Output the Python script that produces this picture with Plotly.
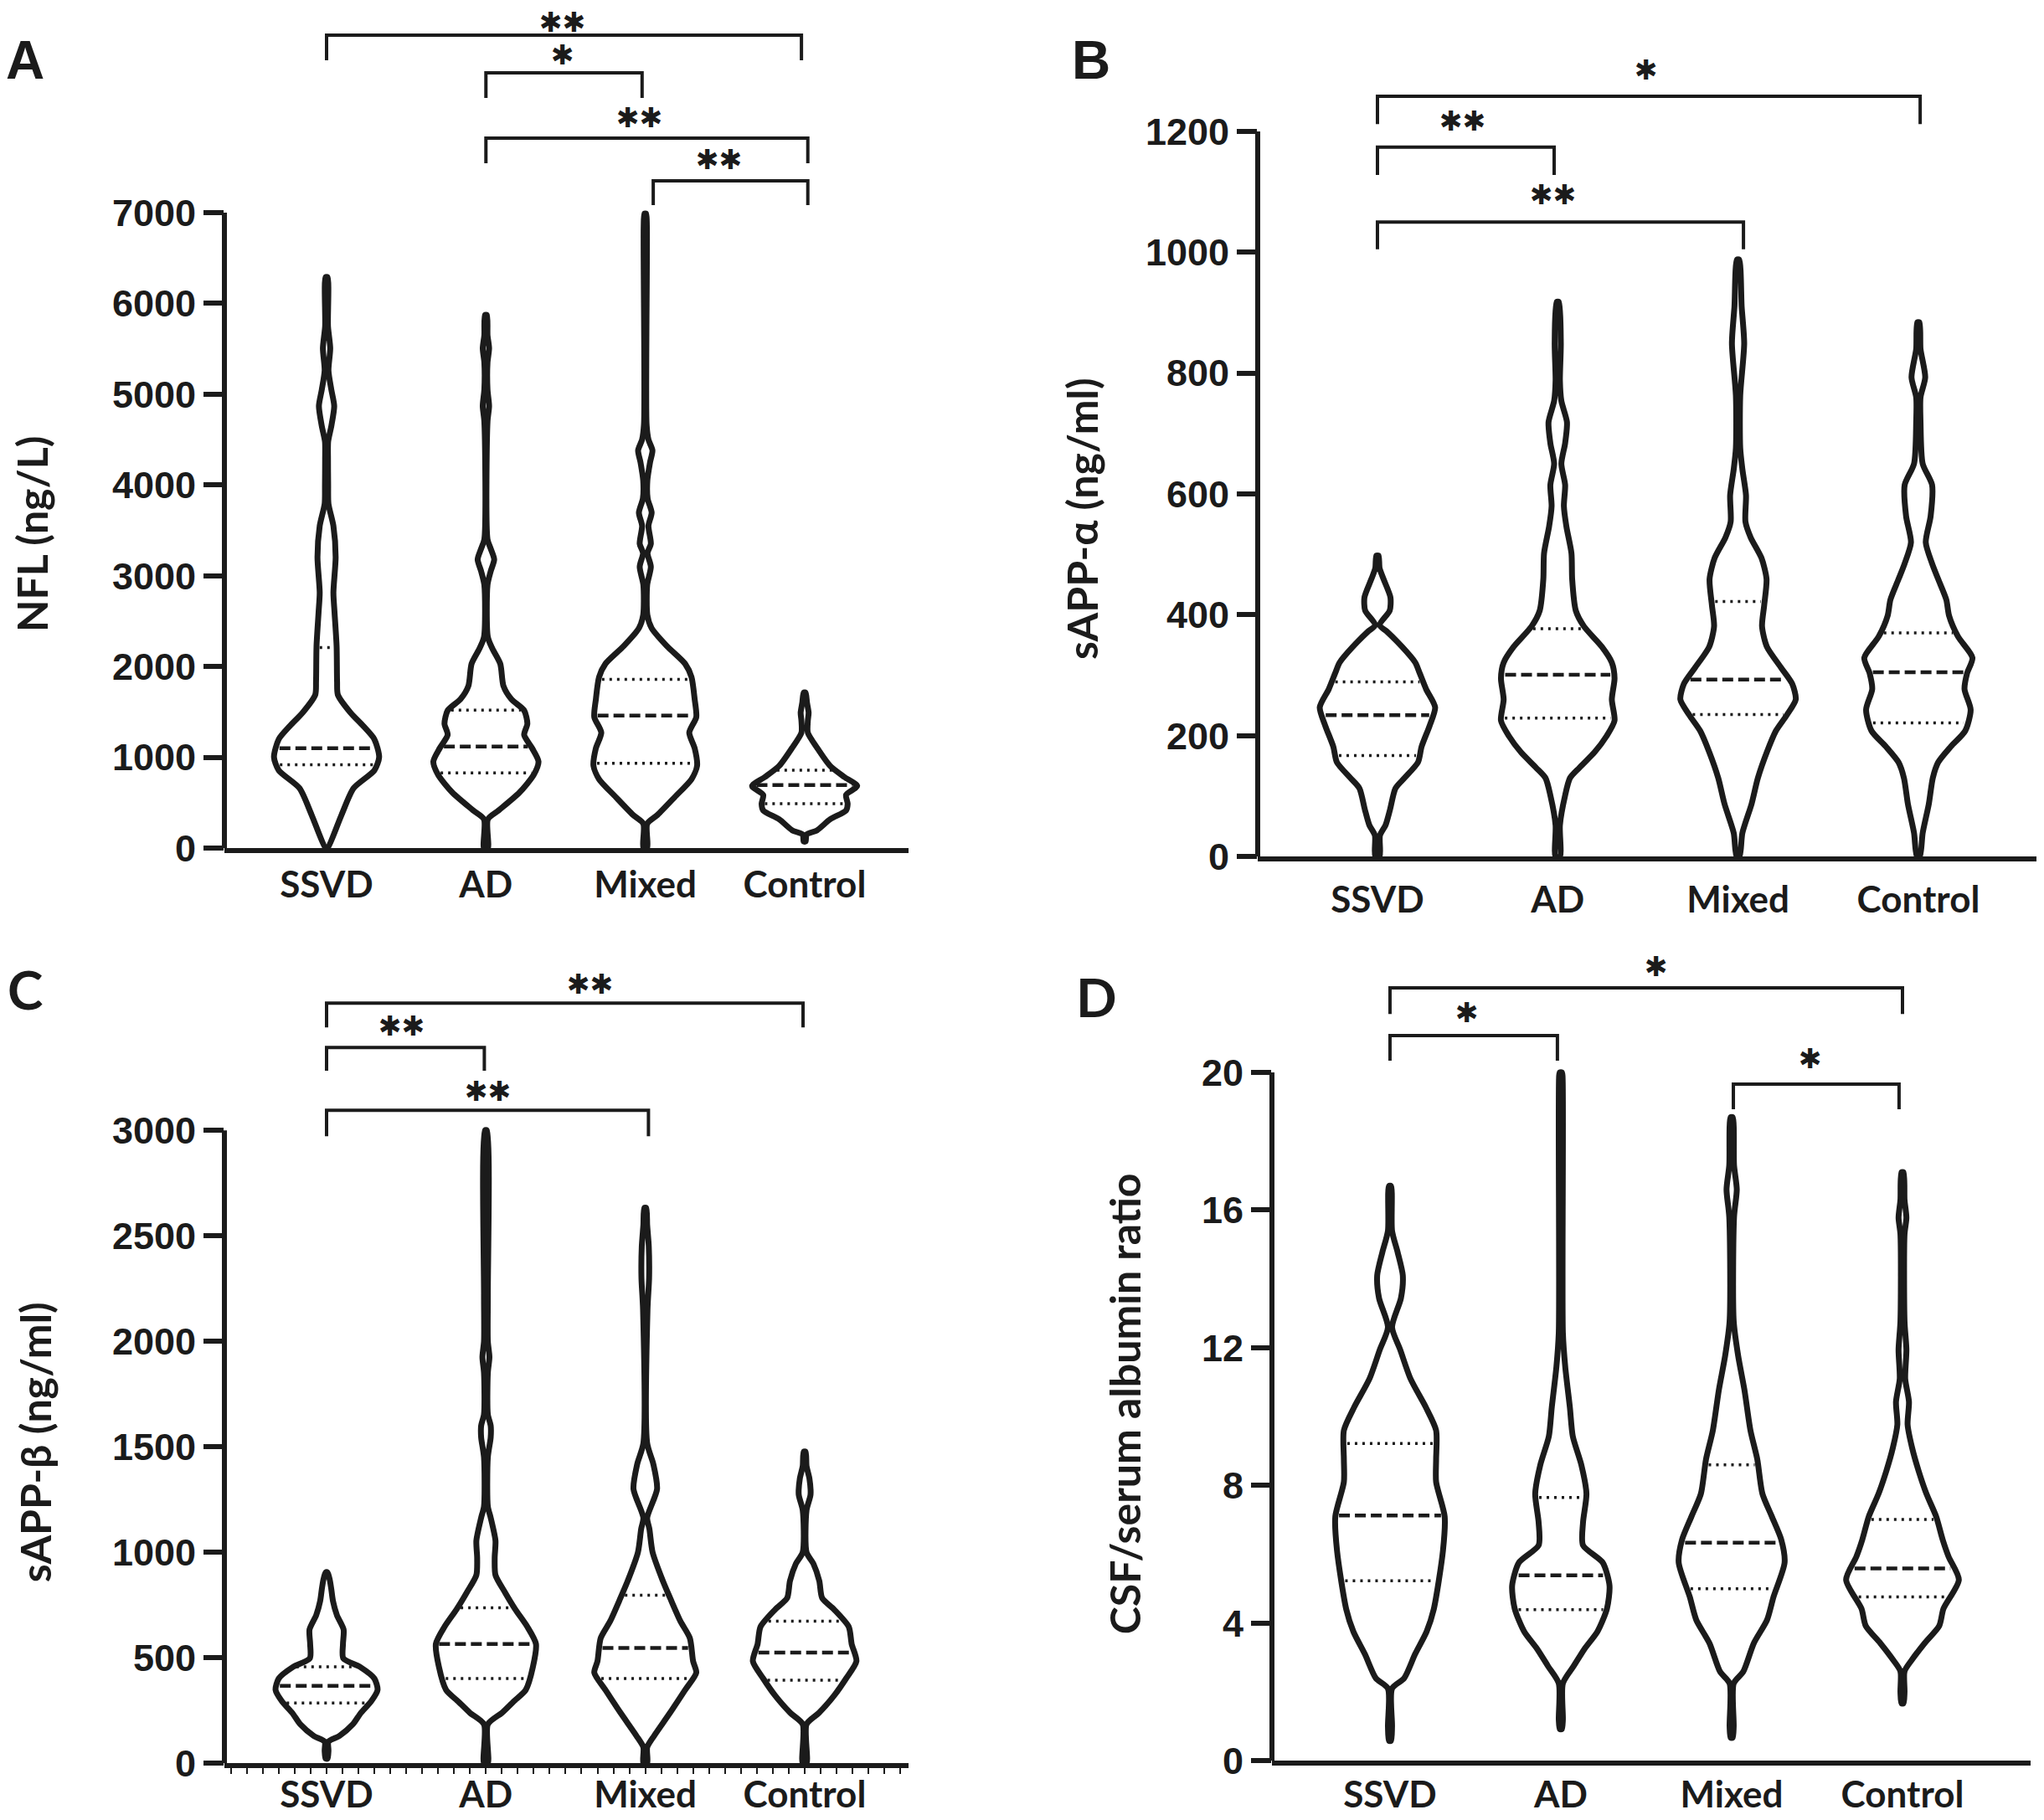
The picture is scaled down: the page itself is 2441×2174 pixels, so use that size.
import numpy as np
import plotly.graph_objects as go

GROUPS = ["SSVD", "AD", "Mixed", "Control"]

# ---------------- Panel A : NFL (ng/L) ----------------
A_SSVD_Y = [0, 367, 661, 857, 1003, 1200, 1346, 1493, 1689, 1835, 2227, 2600, 2815, 3206, 3549, 3793, 4000, 4283, 4479, 4650, 4870, 5050, 5262, 5506, 5750, 6290]
A_SSVD_W = [0.006, 0.094, 0.17, 0.30, 0.33, 0.30, 0.23, 0.15, 0.071, 0.066, 0.063, 0.05, 0.043, 0.057, 0.043, 0.012, 0.010, 0.009, 0.010, 0.03, 0.048, 0.03, 0.012, 0.023, 0.009, 0.006]
A_AD_Y = [0, 318, 416, 612, 808, 954, 1101, 1248, 1371, 1517, 1640, 1787, 2031, 2200, 2325, 2900, 3050, 3181, 3300, 3402, 4700, 4870, 5050, 5350, 5506, 5650, 5873]
A_AD_W = [0.012, 0.012, 0.08, 0.21, 0.30, 0.33, 0.29, 0.24, 0.26, 0.24, 0.16, 0.11, 0.09, 0.04, 0.012, 0.010, 0.03, 0.052, 0.03, 0.010, 0.010, 0.02, 0.010, 0.010, 0.02, 0.010, 0.006]
A_MIX_Y = [0, 269, 367, 563, 759, 906, 1101, 1273, 1444, 1640, 1884, 2031, 2227, 2423, 2570, 2900, 3100, 3250, 3353, 3550, 3696, 3850, 4050, 4250, 4381, 4500, 4675, 6850, 6990]
A_MIX_W = [0.012, 0.012, 0.077, 0.185, 0.29, 0.325, 0.31, 0.276, 0.32, 0.31, 0.29, 0.25, 0.135, 0.04, 0.013, 0.012, 0.035, 0.014, 0.035, 0.02, 0.04, 0.015, 0.013, 0.03, 0.045, 0.02, 0.008, 0.010, 0.005]
A_CTL_Y = [73, 150, 196, 318, 416, 489, 587, 685, 783, 906, 1101, 1273, 1400, 1493, 1600, 1713]
A_CTL_W = [0.006, 0.012, 0.077, 0.16, 0.26, 0.27, 0.26, 0.33, 0.25, 0.16, 0.08, 0.02, 0.02, 0.025, 0.015, 0.006]
A_Q1 = [920, 830, 935, 490]
A_MED = [1100, 1120, 1460, 695]
A_Q3 = [2210, 1520, 1860, 860]
A_TICKS = [0, 1000, 2000, 3000, 4000, 5000, 6000, 7000]
A_BR_X0 = [0, 1, 1, 2.05]
A_BR_X1 = [2.98, 1.98, 3.02, 3.02]
A_BR_Y = [8955, 8540, 7821, 7350]
A_BR_YEND = [8678, 8263, 7544, 7083]
A_STAR_X = [1.48, 1.48, 1.96, 2.46]
A_STAR_Y = [9103, 8743, 8051, 7590]
A_STARS = ["**", "*", "**", "**"]

# ---------------- Panel B : sAPP-alpha ----------------
B_SSVD_Y = [0, 35, 52, 78, 113, 130, 156, 182, 217, 247, 277, 303, 321, 347, 373, 383, 407, 429, 459, 477, 498]
B_SSVD_W = [0.012, 0.014, 0.045, 0.07, 0.10, 0.15, 0.225, 0.245, 0.29, 0.32, 0.27, 0.235, 0.21, 0.137, 0.05, 0.012, 0.068, 0.072, 0.034, 0.012, 0.006]
B_AD_Y = [0, 52, 100, 130, 147, 173, 199, 225, 260, 295, 321, 347, 381, 407, 459, 502, 546, 580, 615, 650, 684, 719, 754, 788, 849, 918]
B_AD_W = [0.012, 0.012, 0.04, 0.068, 0.12, 0.205, 0.27, 0.315, 0.30, 0.315, 0.30, 0.245, 0.145, 0.10, 0.08, 0.076, 0.048, 0.034, 0.041, 0.02, 0.041, 0.051, 0.02, 0.012, 0.017, 0.006]
B_MIX_Y = [0, 39, 87, 130, 173, 208, 234, 260, 286, 312, 347, 381, 416, 459, 494, 528, 554, 598, 641, 676, 763, 849, 910, 988]
B_MIX_W = [0.008, 0.024, 0.075, 0.11, 0.16, 0.21, 0.27, 0.32, 0.30, 0.24, 0.16, 0.133, 0.145, 0.158, 0.13, 0.07, 0.041, 0.044, 0.024, 0.012, 0.012, 0.034, 0.02, 0.006]
B_CTL_Y = [0, 39, 87, 130, 156, 182, 208, 243, 277, 303, 329, 364, 399, 425, 459, 485, 520, 563, 615, 650, 719, 760, 793, 840, 884]
B_CTL_W = [0.008, 0.024, 0.058, 0.08, 0.11, 0.18, 0.26, 0.29, 0.256, 0.27, 0.30, 0.22, 0.17, 0.155, 0.11, 0.076, 0.041, 0.068, 0.076, 0.024, 0.012, 0.012, 0.038, 0.012, 0.006]
B_Q1 = [167, 229, 235, 221]
B_MED = [234, 301, 293, 305]
B_Q3 = [289, 377, 422, 370]
B_TICKS = [0, 200, 400, 600, 800, 1000, 1200]
B_BR_X0 = [0, 0, 0]
B_BR_X1 = [3.01, 0.98, 2.03]
B_BR_Y = [1258, 1174, 1050]
B_BR_YEND = [1212, 1128, 1005]
B_STAR_X = [1.49, 0.47, 0.975]
B_STAR_Y = [1302, 1217, 1095]
B_STARS = ["*", "**", "**"]

# ---------------- Panel C : sAPP-beta ----------------
C_SSVD_Y = [22, 60, 103, 130, 185, 239, 294, 348, 402, 457, 498, 566, 634, 702, 770, 824, 870, 905]
C_SSVD_W = [0.006, 0.012, 0.012, 0.08, 0.165, 0.215, 0.28, 0.32, 0.30, 0.21, 0.105, 0.103, 0.107, 0.065, 0.04, 0.03, 0.02, 0.006]
C_AD_Y = [0, 185, 239, 294, 348, 457, 566, 647, 729, 810, 892, 974, 1055, 1164, 1218, 1450, 1545, 1600, 1654, 1850, 1926, 2000, 2225, 3000]
C_AD_W = [0.012, 0.012, 0.10, 0.175, 0.25, 0.295, 0.314, 0.26, 0.185, 0.12, 0.06, 0.055, 0.06, 0.03, 0.012, 0.012, 0.03, 0.03, 0.012, 0.012, 0.022, 0.012, 0.012, 0.006]
C_MIX_Y = [0, 76, 130, 239, 348, 430, 484, 593, 674, 783, 865, 1000, 1110, 1164, 1300, 1420, 1517, 2150, 2300, 2450, 2550, 2633]
C_MIX_W = [0.012, 0.012, 0.055, 0.155, 0.25, 0.32, 0.30, 0.28, 0.22, 0.156, 0.11, 0.046, 0.026, 0.012, 0.074, 0.05, 0.012, 0.014, 0.024, 0.022, 0.012, 0.006]
C_CTL_Y = [0, 185, 239, 321, 402, 484, 566, 647, 729, 783, 865, 946, 1000, 1200, 1273, 1350, 1409, 1477]
C_CTL_W = [0.012, 0.012, 0.09, 0.185, 0.26, 0.325, 0.295, 0.277, 0.185, 0.11, 0.092, 0.055, 0.012, 0.012, 0.037, 0.03, 0.012, 0.006]
C_Q1 = [286, 402, 402, 394]
C_MED = [367, 566, 547, 525]
C_Q3 = [457, 737, 797, 674]
C_TICKS = [0, 500, 1000, 1500, 2000, 2500, 3000]
C_BR_X0 = [0, 0, 0]
C_BR_X1 = [2.99, 0.99, 2.02]
C_BR_Y = [3603, 3393, 3095]
C_BR_YEND = [3488, 3282, 2972]
C_STAR_X = [1.655, 0.47, 1.01]
C_STAR_Y = [3694, 3496, 3187]
C_STARS = ["**", "**", "**"]

# ---------------- Panel D : CSF/serum albumin ratio ----------------
D_SSVD_Y = [0.58, 1.0, 2.1, 2.4, 3.1, 3.75, 4.4, 6.1, 7.1, 8.1, 8.76, 9.6, 10.27, 11.1, 11.94, 12.6, 13.44, 14.1, 14.77, 15.4, 16.7]
D_SSVD_W = [0.006, 0.012, 0.012, 0.083, 0.147, 0.214, 0.256, 0.31, 0.32, 0.27, 0.27, 0.27, 0.21, 0.12, 0.06, 0.012, 0.064, 0.075, 0.045, 0.012, 0.006]
D_AD_Y = [0.92, 1.2, 2.25, 2.75, 3.26, 3.76, 4.42, 5.09, 5.76, 6.26, 6.93, 7.76, 8.6, 9.43, 10.27, 11.44, 12.44, 19.9, 20.0]
D_AD_W = [0.006, 0.012, 0.012, 0.075, 0.14, 0.215, 0.27, 0.285, 0.245, 0.13, 0.13, 0.15, 0.12, 0.07, 0.053, 0.026, 0.012, 0.010, 0.006]
D_MIX_Y = [0.67, 1.0, 2.25, 2.59, 3.42, 4.09, 4.76, 5.76, 6.43, 7.1, 7.76, 8.76, 9.6, 10.77, 11.77, 12.77, 15.8, 16.6, 17.3, 18.7]
D_MIX_W = [0.006, 0.012, 0.012, 0.068, 0.13, 0.207, 0.245, 0.31, 0.29, 0.235, 0.18, 0.15, 0.11, 0.075, 0.038, 0.012, 0.014, 0.03, 0.014, 0.006]
D_CTL_Y = [1.67, 2.0, 2.6, 2.92, 3.42, 3.92, 4.42, 5.26, 5.93, 6.43, 7.1, 7.76, 8.43, 9.1, 9.77, 10.43, 11.1, 11.94, 12.77, 15.3, 15.78, 16.3, 17.1]
D_CTL_W = [0.006, 0.012, 0.012, 0.053, 0.13, 0.215, 0.24, 0.33, 0.27, 0.235, 0.197, 0.14, 0.094, 0.056, 0.03, 0.038, 0.016, 0.023, 0.012, 0.012, 0.023, 0.012, 0.006]
D_Q1 = [5.23, 4.39, 5.0, 4.76]
D_MED = [7.13, 5.39, 6.34, 5.59]
D_Q3 = [9.22, 7.65, 8.6, 7.01]
D_TICKS = [0, 4, 8, 12, 16, 20]
D_BR_X0 = [0, 0, 2.01]
D_BR_X1 = [3.0, 0.98, 2.98]
D_BR_Y = [22.46, 21.07, 19.66]
D_BR_YEND = [21.70, 20.34, 18.93]
D_STAR_X = [1.56, 0.45, 2.46]
D_STAR_Y = [23.07, 21.75, 20.41]
D_STARS = ["*", "*", "*"]

# ---------------- styling / layout ----------------
OFF = 8            # page offset of the plot div
VSCALE = 0.988     # measured vertical compression of the captured page
W_PX = 2425
H_PX = 2192
INK = "#1b1b1b"
NUM_FONT = "Liberation Sans, Arial, sans-serif"
TXT_FONT = "Lato, Open Sans, sans-serif"
STAR_FONT = "DejaVu Sans, sans-serif"


def fx(px):
    return (px - OFF) / W_PX


def fy(py):
    return 1 - ((py - OFF) / VSCALE) / H_PX


PANELS = [
    dict(key="A", n=1, xpx=(268, 1085), ypx=(1013, 8), xr=(-0.641, 3.652), yr=(0, 9269),
         prof=[(A_SSVD_Y, A_SSVD_W), (A_AD_Y, A_AD_W), (A_MIX_Y, A_MIX_W), (A_CTL_Y, A_CTL_W)],
         q=(A_Q1, A_MED, A_Q3), ticks=A_TICKS,
         br=(A_BR_X0, A_BR_X1, A_BR_Y, A_BR_YEND), st=(A_STAR_X, A_STAR_Y, A_STARS),
         title="NFL (ng/L)", tpos=(38, 638), letter_pos=(30, 72), minor=False, standoff=0),
    dict(key="B", n=2, xpx=(1502, 2432), ypx=(1023, 8), xr=(-0.664, 3.655), yr=(0, 1406.4),
         prof=[(B_SSVD_Y, B_SSVD_W), (B_AD_Y, B_AD_W), (B_MIX_Y, B_MIX_W), (B_CTL_Y, B_CTL_W)],
         q=(B_Q1, B_MED, B_Q3), ticks=B_TICKS,
         br=(B_BR_X0, B_BR_X1, B_BR_Y, B_BR_YEND), st=(B_STAR_X, B_STAR_Y, B_STARS),
         title="sAPP-α (ng/ml)", tpos=(1292, 620), letter_pos=(1303, 72), minor=False, standoff=8),
    dict(key="C", n=3, xpx=(268, 1085), ypx=(2106, 1130), xr=(-0.641, 3.652), yr=(0, 3873),
         prof=[(C_SSVD_Y, C_SSVD_W), (C_AD_Y, C_AD_W), (C_MIX_Y, C_MIX_W), (C_CTL_Y, C_CTL_W)],
         q=(C_Q1, C_MED, C_Q3), ticks=C_TICKS,
         br=(C_BR_X0, C_BR_X1, C_BR_Y, C_BR_YEND), st=(C_STAR_X, C_STAR_Y, C_STARS),
         title="sAPP-β (ng/ml)", tpos=(42, 1723), letter_pos=(30, 1181), minor=True, standoff=-6),
    dict(key="D", n=4, xpx=(1519, 2425), ypx=(2103, 1130), xr=(-0.691, 3.750), yr=(0, 23.67),
         prof=[(D_SSVD_Y, D_SSVD_W), (D_AD_Y, D_AD_W), (D_MIX_Y, D_MIX_W), (D_CTL_Y, D_CTL_W)],
         q=(D_Q1, D_MED, D_Q3), ticks=D_TICKS,
         br=(D_BR_X0, D_BR_X1, D_BR_Y, D_BR_YEND), st=(D_STAR_X, D_STAR_Y, D_STARS),
         title="CSF/serum albumin ratio", tpos=(1343, 1677), letter_pos=(1309, 1190), minor=False, standoff=-3),
]

fig = go.Figure()
layout = {}
shapes = []
annotations = []

for p in PANELS:
    n = p["n"]
    xa, ya = ("x", "y") if n == 1 else (f"x{n}", f"y{n}")
    xkey, ykey = ("xaxis", "yaxis") if n == 1 else (f"xaxis{n}", f"yaxis{n}")

    # violins
    q1s, meds, q3s = p["q"]
    for i, (ys, ws) in enumerate(p["prof"]):
        c = i
        xs = [c + w for w in ws] + [c - w for w in ws[::-1]] + [c + ws[0]]
        yy = list(ys) + list(ys[::-1]) + [ys[0]]
        fig.add_trace(go.Scatter(x=xs, y=yy, mode="lines", xaxis=xa, yaxis=ya,
                                 line=dict(color=INK, width=7, shape="spline", smoothing=0.7),
                                 hoverinfo="skip", showlegend=False))
        for val, dash, lw in [(q1s[i], "3px,6px", 3.5), (q3s[i], "3px,6px", 3.5), (meds[i], "13px,6px", 4.5)]:
            hw = max(float(np.interp(val, ys, ws)) - 0.02, 0.0)
            fig.add_trace(go.Scatter(x=[c - hw, c + hw], y=[val, val], mode="lines", xaxis=xa, yaxis=ya,
                                     line=dict(color=INK, width=lw, dash=dash),
                                     hoverinfo="skip", showlegend=False))

    # axes
    xd = [fx(p["xpx"][0]), fx(p["xpx"][1])]
    yd = [fy(p["ypx"][0]), fy(p["ypx"][1])]
    xcfg = dict(domain=xd, range=list(p["xr"]), anchor=ya, tickmode="array", tickvals=[0, 1, 2, 3],
                ticktext=GROUPS, ticks="", showline=True, linewidth=6, linecolor=INK,
                showgrid=False, zeroline=False, fixedrange=True, ticklabelstandoff=p["standoff"],
                tickfont=dict(family=TXT_FONT, size=44, color=INK, weight="bold"))
    if p["minor"]:
        xcfg["minor"] = dict(ticks="outside", ticklen=7, tickwidth=2, tickcolor=INK,
                             tick0=0, dtick=0.1, showgrid=False)
    layout[xkey] = xcfg
    layout[ykey] = dict(domain=yd, range=list(p["yr"]), anchor=xa, tickmode="array",
                        tickvals=p["ticks"], ticktext=[str(t) for t in p["ticks"]],
                        ticks="outside", ticklen=24, tickwidth=6, tickcolor=INK,
                        showline=False, showgrid=False, zeroline=False, fixedrange=True,
                        tickfont=dict(family=NUM_FONT, size=45, color=INK, weight="bold"))
    # y axis line only over the tick range
    shapes.append(dict(type="line", xref=f"{xa} domain", yref=ya, x0=0, x1=0,
                       y0=p["ticks"][0], y1=p["ticks"][-1], line=dict(color=INK, width=6)))

    # significance brackets
    bx0, bx1, by, byend = p["br"]
    for j in range(len(bx0)):
        shapes.append(dict(type="path", xref=xa, yref=ya,
                           path=f"M {bx0[j]},{byend[j]} L {bx0[j]},{by[j]} L {bx1[j]},{by[j]} L {bx1[j]},{byend[j]}",
                           line=dict(color=INK, width=4)))
    sx, sy, stxt = p["st"]
    for j in range(len(sx)):
        annotations.append(dict(x=sx[j], y=sy[j], xref=xa, yref=ya, text=stxt[j].replace("*", "✱"),
                                showarrow=False, xanchor="center", yanchor="middle",
                                font=dict(family=STAR_FONT, size=33, color=INK)))

    # y title
    annotations.append(dict(x=fx(p["tpos"][0]), y=fy(p["tpos"][1]), xref="paper", yref="paper",
                            text=p["title"], textangle=-90, showarrow=False,
                            xanchor="center", yanchor="middle",
                            font=dict(family=TXT_FONT, size=50, color=INK, weight="bold")))
    # panel letter
    annotations.append(dict(x=fx(p["letter_pos"][0]), y=fy(p["letter_pos"][1]),
                            xref="paper", yref="paper", text=p["key"], showarrow=False,
                            xanchor="center", yanchor="middle",
                            font=dict(family=NUM_FONT if p["key"] in "AB" else TXT_FONT,
                                      size=64, color=INK, weight="bold")))

fig.update_layout(width=W_PX, height=H_PX, margin=dict(l=0, r=0, t=0, b=0),
                  paper_bgcolor="white", plot_bgcolor="white", showlegend=False,
                  shapes=shapes, annotations=annotations, **layout)

fig.write_html("out.html")
